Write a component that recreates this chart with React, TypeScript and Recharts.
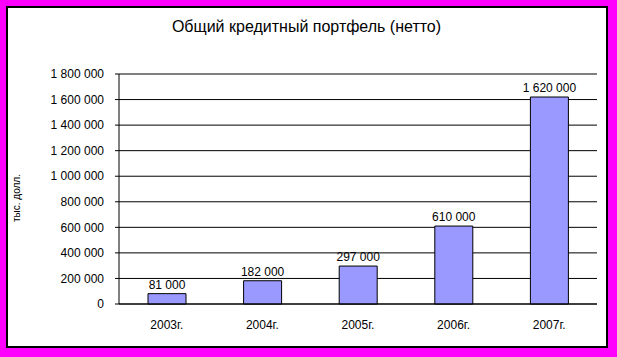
import {
  Bar,
  BarChart,
  CartesianGrid,
  LabelList,
  ReferenceLine,
  XAxis,
  YAxis,
} from "recharts";

const years = ["2003г.", "2004г.", "2005г.", "2006г.", "2007г."];
const portfolio = [81000, 182000, 297000, 610000, 1620000];
const yTicks = [0, 200000, 400000, 600000, 800000, 1000000, 1200000, 1400000, 1600000, 1800000];
const boundaryTicks = [0, 1, 2, 3, 4, 5];

const data = years.map((year, i) => ({ year, value: portfolio[i] }));

const fmt = (v: number | string) =>
  String(v).replace(/\B(?=(\d{3})+(?!\d))/g, " ");

const font = "'Liberation Sans', Arial, sans-serif";

// label above bar, no wrapping
const BarValue = (props: any) => {
  const { x, y, width, value } = props;
  return (
    <text
      x={Number(x) + Number(width) / 2}
      y={Number(y) - 5}
      textAnchor="middle"
      fill="#000"
      fontSize={12}
      fontFamily={font}
    >
      {fmt(value)}
    </text>
  );
};

export default function App() {
  return (
    <div
      style={{
        position: "absolute",
        left: 0,
        top: 0,
        width: 617,
        height: 357,
        background: "#ff00ff",
        fontFamily: font,
      }}
    >
      <div
        style={{
          position: "absolute",
          left: 6,
          top: 6,
          width: 602,
          height: 342,
          boxSizing: "border-box",
          border: "2px solid #000",
          background: "#fff",
        }}
      />
      <div
        style={{
          position: "absolute",
          left: 0,
          top: 18,
          width: 613,
          textAlign: "center",
          fontSize: 16,
          color: "#000",
        }}
      >
        Общий кредитный портфель (нетто)
      </div>
      <div
        style={{
          position: "absolute",
          left: 16,
          top: 198,
          fontSize: 10,
          color: "#000",
          whiteSpace: "nowrap",
          transform: "translate(-50%, -50%) rotate(-90deg)",
        }}
      >
        тыс. долл.
      </div>
      <div style={{ position: "absolute", left: 0, top: 0 }}>
        <BarChart
          width={617}
          height={357}
          data={data}
          margin={{ top: 74, right: 20, left: 19, bottom: 23 }}
        >
          <CartesianGrid vertical={false} stroke="#000" />
          <XAxis
            xAxisId="b"
            type="number"
            domain={[0, 5]}
            ticks={boundaryTicks}
            allowDataOverflow
            height={0}
            tick={false}
            tickSize={5}
            axisLine={false}
            tickLine={{ stroke: "#000" }}
          />
          <XAxis
            dataKey="year"
            height={30}
            tickLine={false}
            tickSize={0}
            tickMargin={16}
            axisLine={{ stroke: "#000" }}
            tick={{ fill: "#000", fontSize: 12, fontFamily: font }}
          />
          <YAxis
            width={100}
            domain={[0, 1800000]}
            ticks={yTicks}
            tickFormatter={fmt}
            tickSize={4}
            tickMargin={11}
            axisLine={{ stroke: "#000" }}
            tickLine={{ stroke: "#000" }}
            tick={{ fill: "#000", fontSize: 12, fontFamily: font }}
          />
          <YAxis
            yAxisId="r"
            orientation="right"
            width={0}
            domain={[0, 1800000]}
            tick={false}
            tickLine={false}
            axisLine={{ stroke: "#808080" }}
          />
          <ReferenceLine y={1800000} stroke="#808080" />
          <Bar
            dataKey="value"
            fill="#9999ff"
            stroke="#000"
            barSize={38}
            isAnimationActive={false}
          >
            <LabelList dataKey="value" content={BarValue} />
          </Bar>
        </BarChart>
      </div>
    </div>
  );
}
